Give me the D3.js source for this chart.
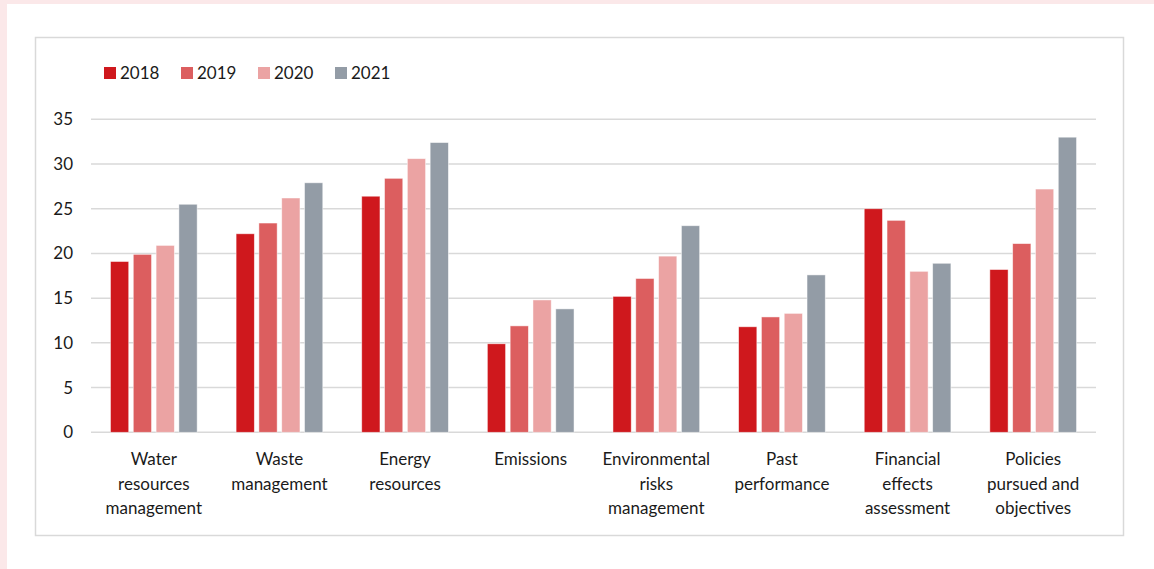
<!DOCTYPE html>
<html>
<head>
<meta charset="utf-8">
<script src="https://cdn.jsdelivr.net/npm/d3@7"></script>
<style>
  html, body { margin: 0; padding: 0; background: #fff; }
  svg { display: block; }
</style>
</head>
<body>
<svg id="chart"></svg>
<script>
// Data
const categories = [
  ["Water", "resources", "management"],
  ["Waste", "management"],
  ["Energy", "resources"],
  ["Emissions"],
  ["Environmental", "risks", "management"],
  ["Past", "performance"],
  ["Financial", "effects", "assessment"],
  ["Policies", "pursued and", "objectives"]
];
const years = ["2018", "2019", "2020", "2021"];
const values2018 = [19.1, 22.2, 26.4, 9.9, 15.2, 11.8, 25.0, 18.2];
const values2019 = [19.9, 23.4, 28.4, 11.9, 17.2, 12.9, 23.7, 21.1];
const values2020 = [20.9, 26.2, 30.6, 14.8, 19.7, 13.3, 18.0, 27.2];
const values2021 = [25.5, 27.9, 32.4, 13.8, 23.1, 17.6, 18.9, 33.0];
const yTicks = [0, 5, 10, 15, 20, 25, 30, 35];
const colors = ["#cf181d", "#dc5e5f", "#eba3a3", "#939ca6"];

const series = [values2018, values2019, values2020, values2021];

const width = 1154, height = 569;
const font = "Lato, 'Open Sans', sans-serif";

const svg = d3.select("#chart")
  .attr("width", width)
  .attr("height", height);

// page background strips and chart frame
svg.append("rect").attr("width", width).attr("height", height).attr("fill", "#fbe8e9");
svg.append("rect").attr("x", 7).attr("y", 4).attr("width", width - 7).attr("height", height - 4).attr("fill", "#fff");
svg.append("rect")
  .attr("x", 35.5).attr("y", 37.5)
  .attr("width", 1088).attr("height", 498)
  .attr("fill", "#fff")
  .attr("stroke", "#d9d9d9")
  .attr("stroke-width", 1.5);

const margin = { left: 91, right: 1096, top: 119.3, bottom: 432.3 };

const x0 = d3.scaleBand()
  .domain(d3.range(categories.length))
  .range([margin.left, margin.right])
  .paddingInner(0.31)
  .paddingOuter(0.155);

const x1 = d3.scaleBand()
  .domain(years)
  .range([0, x0.bandwidth()])
  .paddingInner(0.2);

const y = d3.scaleLinear()
  .domain([0, 35])
  .range([margin.bottom, margin.top]);

// gridlines
svg.append("g")
  .selectAll("line")
  .data(yTicks)
  .join("line")
  .attr("x1", margin.left)
  .attr("x2", margin.right)
  .attr("y1", d => y(d))
  .attr("y2", d => y(d))
  .attr("stroke", "#d9d9d9")
  .attr("stroke-width", 1.5);

// y axis labels
const yAxis = svg.append("g")
  .attr("transform", `translate(${margin.left},0)`)
  .call(d3.axisLeft(y).tickValues(yTicks).tickSize(0).tickPadding(18));
yAxis.select(".domain").remove();
yAxis.selectAll("text")
  .style("font-family", font)
  .style("font-size", "17px")
  .style("fill", "#1a1a1a");

// bars
const groups = svg.append("g")
  .selectAll("g")
  .data(categories)
  .join("g")
  .attr("transform", (d, i) => `translate(${x0(i)},0)`);

groups.selectAll("rect")
  .data((d, i) => years.map((yr, k) => ({ yr, k, v: series[k][i] })))
  .join("rect")
  .attr("x", d => x1(d.yr))
  .attr("width", x1.bandwidth())
  .attr("y", d => y(d.v))
  .attr("height", d => y(0) - y(d.v))
  .attr("fill", d => colors[d.k])
  .attr("stroke", "#fff")
  .attr("stroke-opacity", 0.6)
  .attr("stroke-width", 0.8);

// x labels
const xLabels = svg.append("g")
  .selectAll("text")
  .data(categories)
  .join("text")
  .attr("text-anchor", "middle")
  .attr("x", (d, i) => x0(i) + x0.bandwidth() / 2)
  .attr("y", 465)
  .style("font-family", font)
  .style("font-size", "17px")
  .style("fill", "#1a1a1a");

xLabels.selectAll("tspan")
  .data(d => d)
  .join("tspan")
  .attr("x", function () { return this.parentNode.getAttribute("x"); })
  .attr("dy", (d, i) => i === 0 ? 0 : 24.5)
  .text(d => d);

// legend
const legend = svg.append("g")
  .selectAll("g")
  .data(years)
  .join("g")
  .attr("transform", (d, i) => `translate(${104 + i * 77},67)`);

legend.append("rect")
  .attr("width", 12)
  .attr("height", 12)
  .attr("fill", (d, i) => colors[i]);

legend.append("text")
  .attr("x", 16)
  .attr("y", 12)
  .style("font-family", font)
  .style("font-size", "17px")
  .style("fill", "#1a1a1a")
  .text(d => d);
</script>
</body>
</html>
